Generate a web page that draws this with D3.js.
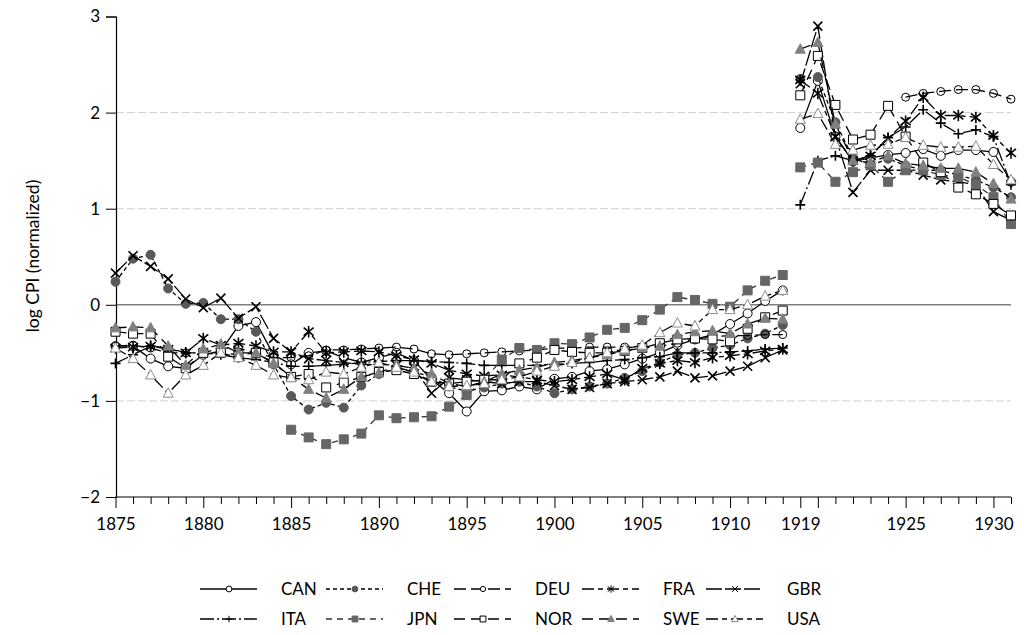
<!DOCTYPE html>
<html>
<head>
<meta charset="utf-8">
<script src="https://cdn.jsdelivr.net/npm/d3@7"></script>
<style>
  body { margin: 0; background: #fff; }
  text { font-family: Lato, "Open Sans", sans-serif; }
</style>
</head>
<body>
<div id="chart"></div>
<script>
// categories: pre-war years, then post-war years (war years are left out of the axis)
var yearsPre = [1875,1876,1877,1878,1879,1880,1881,1882,1883,1884,1885,1886,1887,1888,1889,1890,1891,1892,1893,1894,
                1895,1896,1897,1898,1899,1900,1901,1902,1903,1904,1905,1906,1907,1908,1909,1910,1911,1912,1913];
var yearsPost = [1919,1920,1921,1922,1923,1924,1925,1926,1927,1928,1929,1930,1931];

var countries = ["CAN","CHE","DEU","FRA","GBR","ITA","JPN","NOR","SWE","USA"];

// log CPI, 1875-1913
var canPre = [-0.43,-0.43,-0.56,-0.64,-0.66,-0.52,-0.48,-0.22,-0.18,-0.52,-0.62,-0.5,-0.48,-0.55,-0.6,-0.55,-0.5,-0.58,-0.78,-0.92,-1.11,-0.9,-0.89,-0.85,-0.88,-0.77,-0.75,-0.69,-0.67,-0.62,-0.56,-0.5,-0.42,-0.36,-0.31,-0.2,-0.09,0.04,0.15];
var chePre = [0.24,0.48,0.52,0.17,0.01,0.02,-0.15,-0.15,-0.28,-0.62,-0.95,-1.09,-1.02,-1.07,-0.84,-0.72,-0.66,-0.7,-0.75,-0.85,-0.9,-0.86,-0.82,-0.8,-0.85,-0.92,-0.88,-0.85,-0.82,-0.76,-0.69,-0.6,-0.52,-0.5,-0.45,-0.42,-0.35,-0.3,-0.21];
var deuPre = [-0.43,-0.42,-0.45,-0.5,-0.5,-0.5,-0.45,-0.45,-0.5,-0.55,-0.55,-0.53,-0.47,-0.47,-0.46,-0.45,-0.44,-0.46,-0.51,-0.52,-0.51,-0.5,-0.49,-0.48,-0.47,-0.45,-0.45,-0.44,-0.44,-0.44,-0.45,-0.43,-0.4,-0.35,-0.33,-0.32,-0.32,-0.31,-0.31];
var fraPre = [-0.45,-0.44,-0.43,-0.46,-0.5,-0.35,-0.42,-0.4,-0.43,-0.49,-0.49,-0.28,-0.5,-0.49,-0.48,-0.49,-0.53,-0.57,-0.61,-0.68,-0.72,-0.74,-0.73,-0.75,-0.78,-0.8,-0.78,-0.75,-0.72,-0.78,-0.66,-0.61,-0.58,-0.6,-0.55,-0.53,-0.51,-0.48,-0.46];
var gbrPre = [0.33,0.51,0.4,0.27,0.06,-0.03,0.07,-0.14,-0.02,-0.35,-0.49,-0.56,-0.58,-0.6,-0.62,-0.62,-0.63,-0.66,-0.92,-0.76,-0.78,-0.8,-0.82,-0.8,-0.8,-0.84,-0.88,-0.86,-0.82,-0.8,-0.78,-0.75,-0.69,-0.76,-0.74,-0.69,-0.64,-0.55,-0.47];
var itaPre = [-0.61,-0.52,-0.43,-0.45,-0.5,-0.5,-0.52,-0.55,-0.57,-0.6,-0.64,-0.64,-0.63,-0.62,-0.6,-0.59,-0.58,-0.58,-0.59,-0.6,-0.61,-0.63,-0.63,-0.63,-0.63,-0.62,-0.61,-0.6,-0.58,-0.57,-0.55,-0.54,-0.5,-0.5,-0.5,-0.49,-0.48,-0.46,-0.45];
var jpnPre = [null,null,null,null,null,null,null,null,null,null,-1.3,-1.38,-1.45,-1.4,-1.34,-1.15,-1.18,-1.17,-1.16,-1.06,-0.94,-0.78,-0.57,-0.45,-0.47,-0.4,-0.41,-0.34,-0.26,-0.24,-0.16,-0.05,0.08,0.05,0.01,-0.02,0.15,0.25,0.31];
var norPre = [-0.28,-0.3,-0.3,-0.54,-0.66,-0.5,-0.5,-0.52,-0.5,-0.6,-0.75,-0.72,-0.86,-0.81,-0.75,-0.7,-0.68,-0.72,-0.8,-0.82,-0.8,-0.78,-0.78,-0.61,-0.55,-0.47,-0.49,-0.5,-0.5,-0.48,-0.45,-0.4,-0.36,-0.35,-0.36,-0.38,-0.25,-0.13,-0.06];
var swePre = [-0.24,-0.23,-0.24,-0.43,-0.63,-0.46,-0.41,-0.5,-0.5,-0.61,-0.75,-0.88,-0.97,-0.88,-0.75,-0.71,-0.63,-0.66,-0.72,-0.82,-0.85,-0.8,-0.72,-0.68,-0.65,-0.6,-0.58,-0.55,-0.52,-0.48,-0.45,-0.43,-0.31,-0.28,-0.27,-0.3,-0.2,-0.14,-0.15];
var usaPre = [-0.45,-0.56,-0.73,-0.92,-0.73,-0.63,-0.5,-0.55,-0.63,-0.73,-0.76,-0.78,-0.7,-0.72,-0.65,-0.6,-0.65,-0.7,-0.8,-0.85,-0.84,-0.82,-0.78,-0.75,-0.69,-0.64,-0.6,-0.55,-0.5,-0.46,-0.42,-0.29,-0.19,-0.22,-0.05,-0.05,0.0,0.09,0.15];

// log CPI, 1919-1931
var canPost = [1.84,2.33,1.75,1.49,1.53,1.56,1.58,1.62,1.55,1.61,1.61,1.59,1.28];
var chePost = [2.35,2.37,1.9,1.53,1.45,1.52,1.45,1.4,1.4,1.35,1.3,1.22,1.12];
var deuPost = [null,null,null,null,null,null,2.16,2.2,2.22,2.24,2.24,2.2,2.14];
var fraPost = [2.34,2.2,1.75,1.5,1.55,1.73,1.91,2.16,1.97,1.97,1.95,1.76,1.58];
var gbrPost = [2.3,2.9,1.75,1.17,1.4,1.4,1.4,1.35,1.3,1.28,1.25,0.97,0.88];
var itaPost = [1.04,1.5,1.55,1.5,1.55,1.74,1.85,2.03,1.89,1.78,1.82,1.75,1.25];
var jpnPost = [1.43,1.48,1.28,1.38,1.45,1.28,1.4,1.4,1.35,1.33,1.25,1.12,0.84];
var norPost = [2.18,2.59,2.08,1.72,1.77,2.07,1.75,1.48,1.38,1.22,1.15,1.05,0.93];
var swePost = [2.66,2.73,1.88,1.5,1.48,1.55,1.47,1.45,1.42,1.42,1.38,1.26,1.1];
var usaPost = [1.93,1.99,1.67,1.61,1.66,1.67,1.74,1.66,1.64,1.64,1.65,1.46,1.3];

var yTicks = [-2,-1,0,1,2,3];
var xTickLabels = ["1875","1880","1885","1890","1895","1900","1905","1910","1919","1925","1930"];

var seriesPre  = [canPre, chePre, deuPre, fraPre, gbrPre, itaPre, jpnPre, norPre, swePre, usaPre];
var seriesPost = [canPost, chePost, deuPost, fraPost, gbrPost, itaPost, jpnPost, norPost, swePost, usaPost];

// look of each series (marker, colours, dash)
var styles = [
  {m:"circle",   r:4.5, fill:"#fff",    stroke:"#000",    line:"#000",    dash:null},
  {m:"circle",   r:4.5, fill:"#595959", stroke:"#595959", line:"#000",    dash:"4,3"},
  {m:"circle",   r:4,   fill:"none",    stroke:"#000",    line:"#000",    dash:"12,5"},
  {m:"asterisk", r:5,   fill:"none",    stroke:"#000",    line:"#000",    dash:"12,4,5,4"},
  {m:"x",        r:4.5, fill:"none",    stroke:"#000",    line:"#000",    dash:"16,3"},
  {m:"plus",     r:5,   fill:"none",    stroke:"#000",    line:"#000",    dash:"14,3,2,3"},
  {m:"square",   r:4.5, fill:"#666",    stroke:"#666",    line:"#333",    dash:"6,5"},
  {m:"square",   r:4.5, fill:"#fff",    stroke:"#000",    line:"#000",    dash:"11,6"},
  {m:"triangle", r:5,   fill:"#808080", stroke:"#808080", line:"#000",    dash:"11,6"},
  {m:"triangle", r:5,   fill:"#fff",    stroke:"#8c8c8c", line:"#000",    dash:"12,4,5,4"}
];

function markerPath(type, h) {
  if (type === "circle") return "M" + (-h) + ",0a" + h + "," + h + " 0 1,0 " + (2*h) + ",0a" + h + "," + h + " 0 1,0 " + (-2*h) + ",0Z";
  if (type === "square") return "M" + (-h) + "," + (-h) + "h" + (2*h) + "v" + (2*h) + "h" + (-2*h) + "Z";
  if (type === "triangle") return "M0," + (-h*1.1) + "L" + h + "," + (h*0.8) + "L" + (-h) + "," + (h*0.8) + "Z";
  if (type === "x") return "M" + (-h) + "," + (-h) + "L" + h + "," + h + "M" + (-h) + "," + h + "L" + h + "," + (-h);
  if (type === "plus") return "M" + (-h) + ",0H" + h + "M0," + (-h) + "V" + h;
  if (type === "asterisk") return "M" + (-h) + "," + (-h*0.8) + "L" + h + "," + (h*0.8) + "M" + (-h) + "," + (h*0.8) + "L" + h + "," + (-h*0.8) + "M0," + (-h*1.15) + "V" + (h*1.15);
  return "";
}

var W = 1024, H = 635;
var svg = d3.select("#chart").append("svg").attr("width", W).attr("height", H);
svg.append("rect").attr("width", W).attr("height", H).attr("fill", "#fff");

var categories = yearsPre.concat(yearsPost).map(String);

var x = d3.scalePoint().domain(categories).range([115.5, 1011]);
var y = d3.scaleLinear().domain([-2, 3]).range([497, 16.5]);

// gridlines
svg.append("g").selectAll("line")
  .data([-1, 1, 2]).enter().append("line")
  .attr("x1", 116).attr("x2", 1011)
  .attr("y1", function(d){ return y(d); }).attr("y2", function(d){ return y(d); })
  .attr("stroke", "#d0d0d0").attr("stroke-width", 1).attr("stroke-dasharray", "8,3");

// zero line
svg.append("line")
  .attr("x1", 116).attr("x2", 1011).attr("y1", y(0)).attr("y2", y(0))
  .attr("stroke", "#7f7f7f").attr("stroke-width", 1.5);

// y axis
var yAxis = svg.append("g").attr("transform", "translate(116,0)")
  .call(d3.axisLeft(y).tickValues(yTicks).tickSize(10).tickPadding(6).tickFormat(d3.format("d")));
yAxis.select(".domain").attr("stroke", "#000").attr("stroke-width", 1.2);
yAxis.selectAll(".tick line").attr("stroke", "#000");
yAxis.selectAll("text").attr("font-size", 17).attr("fill", "#000").attr("font-family", "Lato, sans-serif");

// x axis: minor tick per year, longer tick every 5th position, labels on a few
var xAxis = svg.append("g").attr("transform", "translate(0,497)")
  .call(d3.axisBottom(x).tickSize(7).tickPadding(14)
    .tickFormat(function(d){ return xTickLabels.indexOf(d) >= 0 ? d : ""; }));
xAxis.select(".domain").attr("stroke", "#000").attr("stroke-width", 1.2).attr("d", "M115.5,0H1011");
xAxis.selectAll(".tick line").attr("stroke", "#000")
  .attr("y2", function(d){
    var i = categories.indexOf(d);
    return (i % 5 === 0 || xTickLabels.indexOf(d) >= 0) ? 11 : 7;
  });
xAxis.selectAll("text").attr("font-size", 17).attr("fill", "#000").attr("font-family", "Lato, sans-serif");

// y axis title
svg.append("text")
  .attr("transform", "translate(39,256) rotate(-90)")
  .attr("text-anchor", "middle")
  .attr("font-size", 17.5)
  .text("log CPI (normalized)");

// series
var line = d3.line()
  .defined(function(d){ return d.v !== null; })
  .x(function(d){ return x(d.c); })
  .y(function(d){ return y(d.v); });

var plot = svg.append("g");
countries.forEach(function(name, k) {
  var st = styles[k];
  var parts = [
    yearsPre.map(function(yr, i){ return {c: String(yr), v: seriesPre[k][i]}; }),
    yearsPost.map(function(yr, i){ return {c: String(yr), v: seriesPost[k][i]}; })
  ];
  var g = plot.append("g").attr("class", "series-" + name);
  parts.forEach(function(pts) {
    g.append("path")
      .attr("d", line(pts))
      .attr("fill", "none")
      .attr("stroke", st.line)
      .attr("stroke-width", 1.3)
      .attr("stroke-dasharray", st.dash);
    g.selectAll(null)
      .data(pts.filter(function(d){ return d.v !== null; }))
      .enter().append("path")
      .attr("transform", function(d){ return "translate(" + x(d.c) + "," + y(d.v) + ")"; })
      .attr("d", markerPath(st.m, st.r))
      .attr("fill", st.fill)
      .attr("stroke", st.stroke)
      .attr("stroke-width", (st.m === "x" || st.m === "plus" || st.m === "asterisk") ? 1.6 : 1);
  });
});

// legend, two rows of five
var legend = svg.append("g");
var colX = [200, 326, 454, 582, 706];
var rowY = [589, 619];
countries.forEach(function(name, k) {
  var st = styles[k];
  var gx = colX[k % 5], gy = rowY[Math.floor(k / 5)];
  var g = legend.append("g").attr("transform", "translate(" + gx + "," + gy + ")");
  g.append("line").attr("x1", 0).attr("x2", 57).attr("y1", 0).attr("y2", 0)
    .attr("stroke", st.line).attr("stroke-width", 1.3).attr("stroke-dasharray", st.dash);
  g.append("path").attr("transform", "translate(29,0)")
    .attr("d", markerPath(st.m, st.r * 0.65))
    .attr("fill", st.fill === "none" ? "#fff" : st.fill)
    .attr("stroke", st.stroke).attr("stroke-width", 1);
  g.append("text").attr("x", 81).attr("y", 6).attr("font-size", 17).text(name);
});
</script>
</body>
</html>
